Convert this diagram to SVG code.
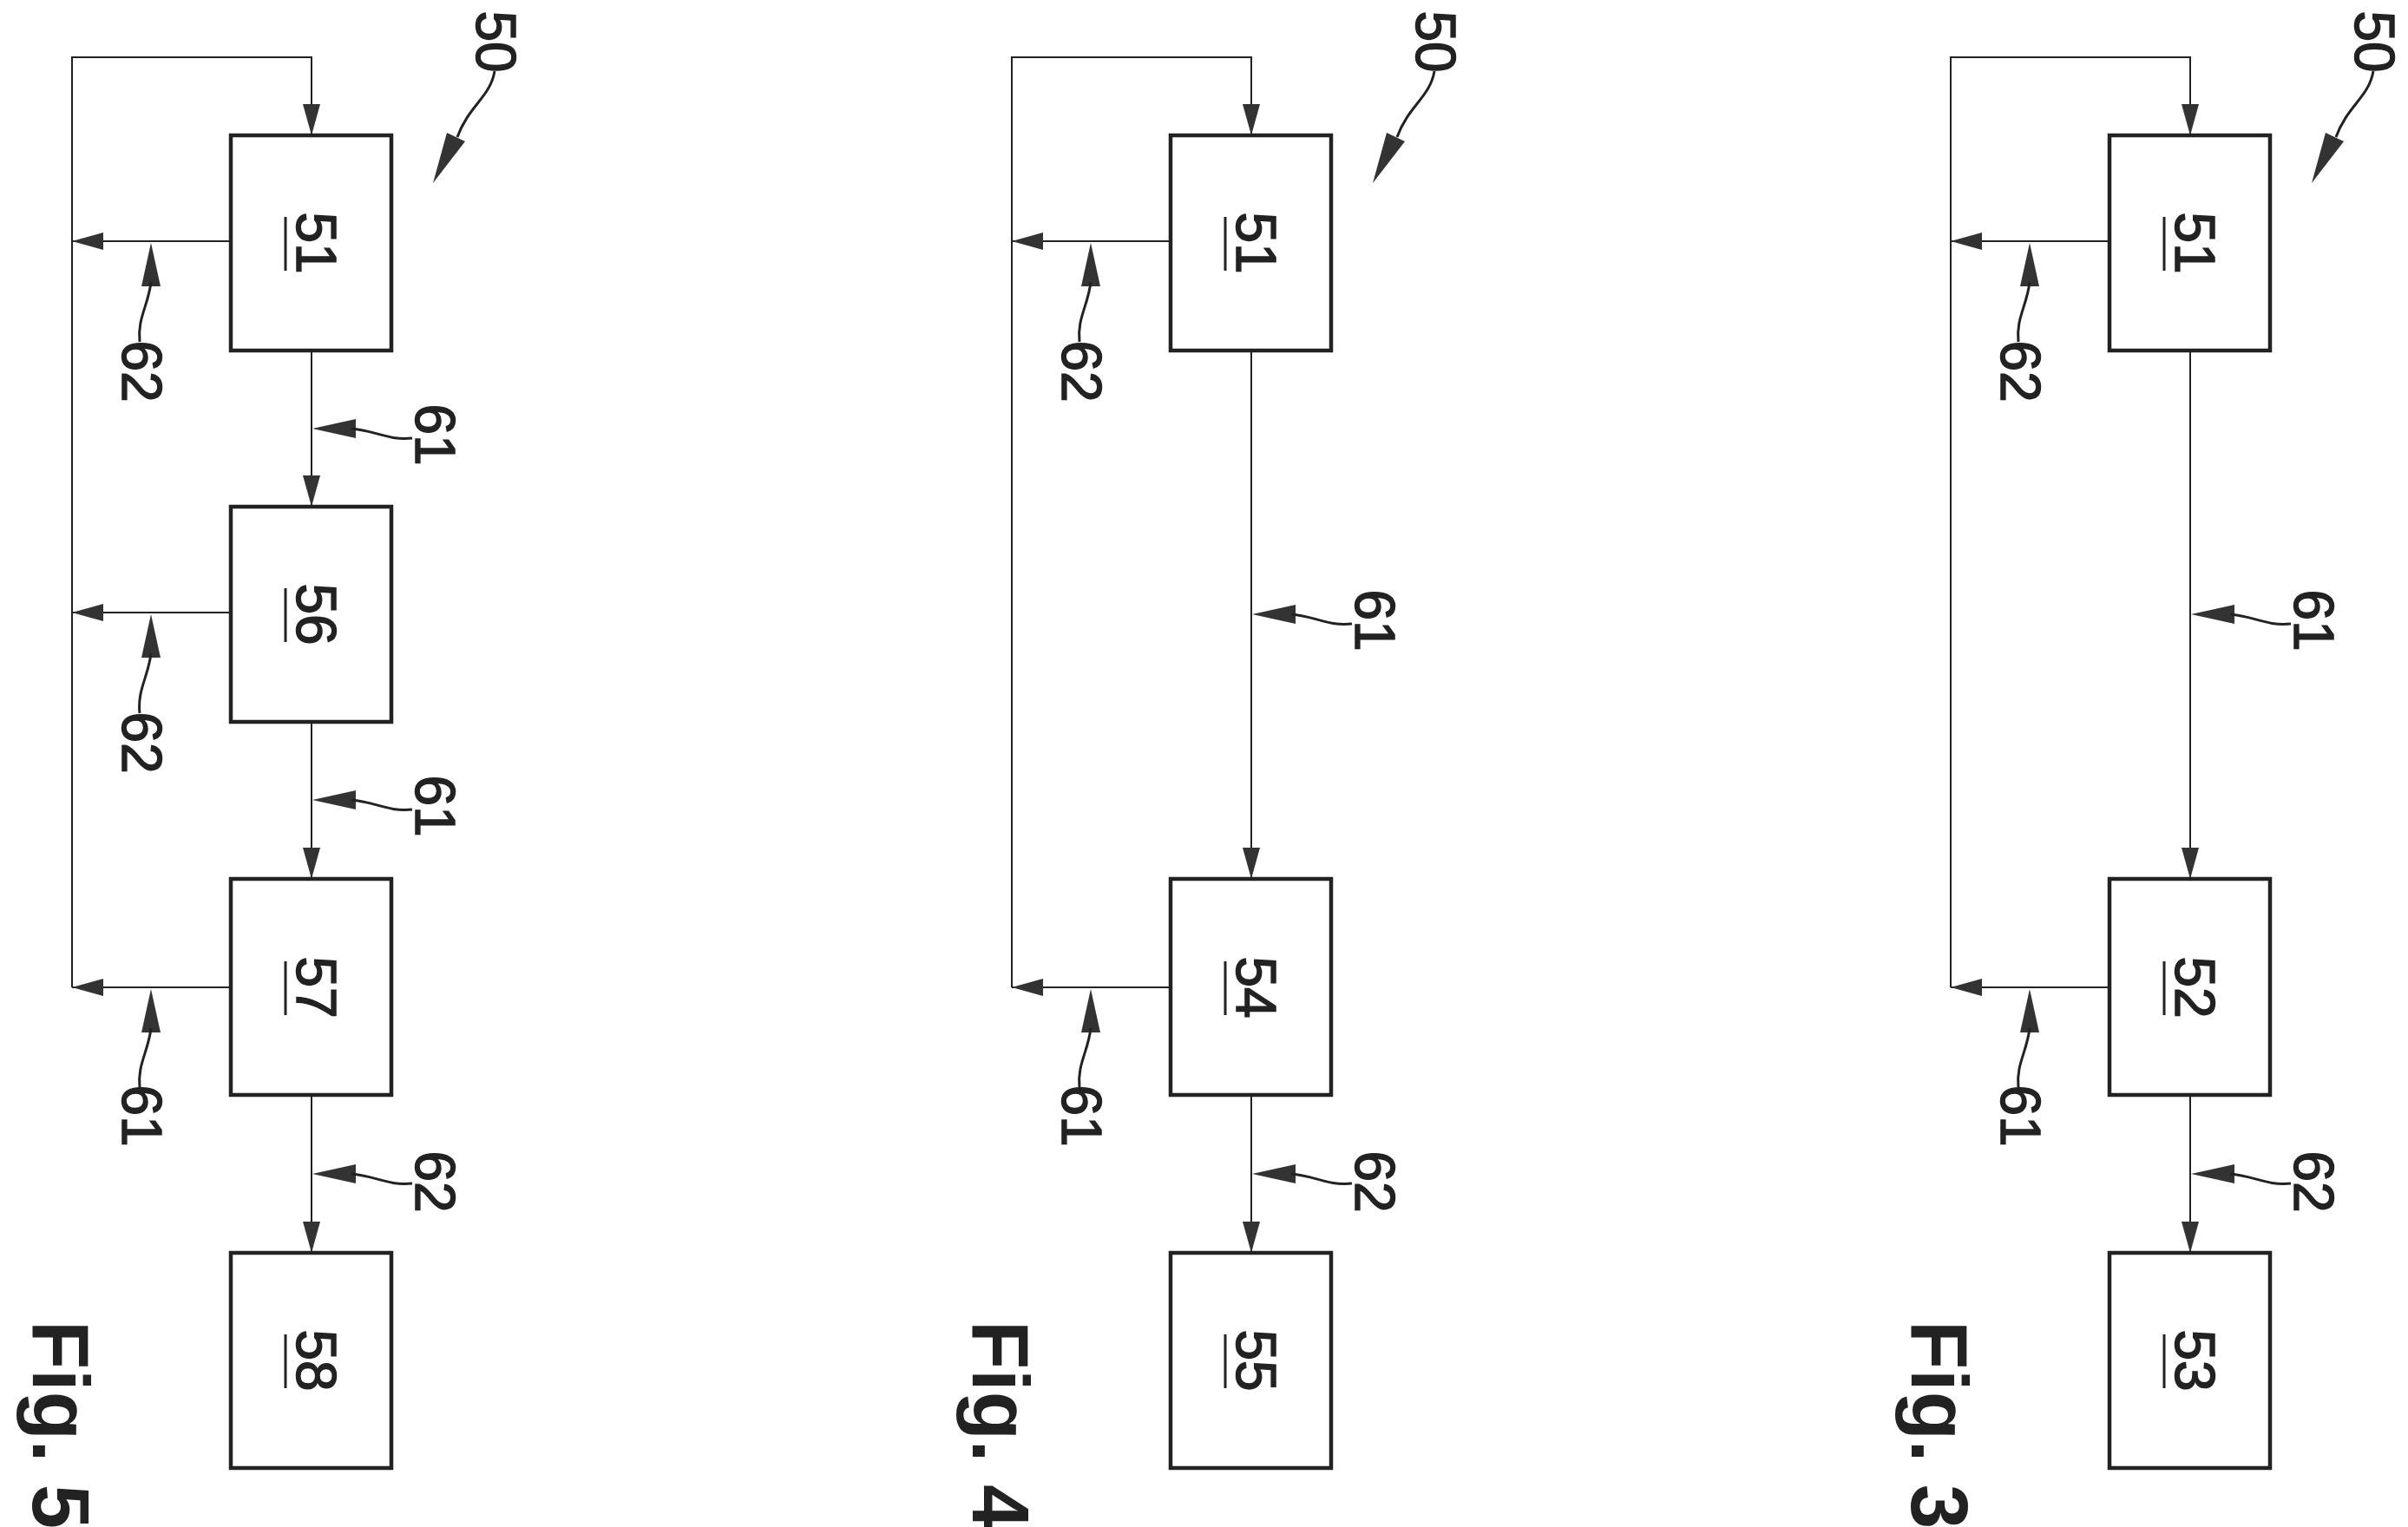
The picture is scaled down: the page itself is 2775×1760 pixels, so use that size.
<svg xmlns="http://www.w3.org/2000/svg" xmlns:xlink="http://www.w3.org/1999/xlink" width="2775" height="1760" viewBox="0 0 2775 1760">
<style>
.box{fill:#fff;stroke:#222;stroke-width:4.5}
.ln{fill:none;stroke:#222;stroke-width:2}
.ld{fill:none;stroke:#222;stroke-width:3}
.t{font-family:"Liberation Sans",Arial,sans-serif;font-size:64px;fill:#222;stroke:#222;stroke-width:1.5;text-anchor:middle;dominant-baseline:central}
.f{font-family:"Liberation Sans",Arial,sans-serif;font-size:92px;font-weight:bold;fill:#222;text-anchor:middle;dominant-baseline:central}
.ah{fill:#333}
</style>
<defs>
<marker id="a" markerUnits="userSpaceOnUse" markerWidth="36" markerHeight="20" refX="36" refY="10" orient="auto"><path d="M0,0 L36,10 L0,20 Z" class="ah"/></marker>
<g id="legA"><path d="M174,0 L163,50 L185,50 Z" class="ah"/><path class="ld" d="M174,45 C171,72 158,87 161,114"/></g>
<g id="legB"><path d="M360,0 L410,-11 L410,11 Z" class="ah"/><path class="ld" d="M405,0 C432,2 447,14 475,11"/></g>
<g id="leg50"><path class="ld" d="M570,82 C565,112 540,122 527,158"/><path d="M499,211 L515,153 L536,163 Z" class="ah"/></g>
</defs>

<!-- Fig 5 -->
<g id="fig5">
<g id="connectors5">
<path class="ln" d="M83,1138 L83,66 L359,66 L359,156" marker-end="url(#a)"/>
<path class="ln" d="M266,278 L83,278" marker-end="url(#a)"/>
<path class="ln" d="M266,706 L83,706" marker-end="url(#a)"/>
<path class="ln" d="M266,1138 L83,1138" marker-end="url(#a)"/>
<path class="ln" d="M359,404 L359,584" marker-end="url(#a)"/>
<path class="ln" d="M359,832 L359,1013" marker-end="url(#a)"/>
<path class="ln" d="M359,1262 L359,1444" marker-end="url(#a)"/>
<use xlink:href="#leg50"/>
<use xlink:href="#legA" transform="translate(0,280)"/>
<use xlink:href="#legA" transform="translate(0,708)"/>
<use xlink:href="#legA" transform="translate(0,1140)"/>
<use xlink:href="#legB" transform="translate(0,494)"/>
<use xlink:href="#legB" transform="translate(0,922)"/>
<use xlink:href="#legB" transform="translate(0,1353)"/>
<text class="t" transform="translate(571,48) rotate(90)">50</text>
<text class="t" transform="translate(163,428) rotate(90)">62</text>
<text class="t" transform="translate(163,856) rotate(90)">62</text>
<text class="t" transform="translate(163,1286) rotate(90)">61</text>
<text class="t" transform="translate(501,501) rotate(90)">61</text>
<text class="t" transform="translate(501,929) rotate(90)">61</text>
<text class="t" transform="translate(501,1362) rotate(90)">62</text>
</g>
<g id="n5_51"><rect class="box" x="266" y="156" width="185" height="248"/><text class="t" transform="translate(364,280) rotate(90)">51</text><line class="ld" x1="329" y1="250" x2="329" y2="312"/></g>
<g id="n5_56"><rect class="box" x="266" y="584" width="185" height="248"/><text class="t" transform="translate(364,708) rotate(90)">56</text><line class="ld" x1="329" y1="678" x2="329" y2="740"/></g>
<g id="n5_57"><rect class="box" x="266" y="1013" width="185" height="249"/><text class="t" transform="translate(364,1138) rotate(90)">57</text><line class="ld" x1="329" y1="1108" x2="329" y2="1170"/></g>
<g id="n5_58"><rect class="box" x="266" y="1444" width="185" height="248"/><text class="t" transform="translate(364,1568) rotate(90)">58</text><line class="ld" x1="329" y1="1538" x2="329" y2="1600"/></g>
<text class="f" transform="translate(70,1642) rotate(90)">Fig. 5</text>
</g>

<!-- Fig 4 -->
<g id="fig4" transform="translate(1083,0)">
<g id="connectors4">
<path class="ln" d="M83,1138 L83,66 L359,66 L359,156" marker-end="url(#a)"/>
<path class="ln" d="M266,278 L83,278" marker-end="url(#a)"/>
<path class="ln" d="M266,1138 L83,1138" marker-end="url(#a)"/>
<path class="ln" d="M359,404 L359,1013" marker-end="url(#a)"/>
<path class="ln" d="M359,1262 L359,1444" marker-end="url(#a)"/>
<use xlink:href="#leg50"/>
<use xlink:href="#legA" transform="translate(0,280)"/>
<use xlink:href="#legA" transform="translate(0,1140)"/>
<use xlink:href="#legB" transform="translate(0,708)"/>
<use xlink:href="#legB" transform="translate(0,1353)"/>
<text class="t" transform="translate(571,48) rotate(90)">50</text>
<text class="t" transform="translate(163,428) rotate(90)">62</text>
<text class="t" transform="translate(163,1286) rotate(90)">61</text>
<text class="t" transform="translate(501,715) rotate(90)">61</text>
<text class="t" transform="translate(501,1362) rotate(90)">62</text>
</g>
<g id="n4_51"><rect class="box" x="266" y="156" width="185" height="248"/><text class="t" transform="translate(364,280) rotate(90)">51</text><line class="ld" x1="329" y1="250" x2="329" y2="312"/></g>
<g id="n4_54"><rect class="box" x="266" y="1013" width="185" height="249"/><text class="t" transform="translate(364,1138) rotate(90)">54</text><line class="ld" x1="329" y1="1108" x2="329" y2="1170"/></g>
<g id="n4_55"><rect class="box" x="266" y="1444" width="185" height="248"/><text class="t" transform="translate(364,1568) rotate(90)">55</text><line class="ld" x1="329" y1="1538" x2="329" y2="1600"/></g>
<text class="f" transform="translate(70,1642) rotate(90)">Fig. 4</text>
</g>

<!-- Fig 3 -->
<g id="fig3" transform="translate(2165,0)">
<g id="connectors3">
<path class="ln" d="M83,1138 L83,66 L359,66 L359,156" marker-end="url(#a)"/>
<path class="ln" d="M266,278 L83,278" marker-end="url(#a)"/>
<path class="ln" d="M266,1138 L83,1138" marker-end="url(#a)"/>
<path class="ln" d="M359,404 L359,1013" marker-end="url(#a)"/>
<path class="ln" d="M359,1262 L359,1444" marker-end="url(#a)"/>
<use xlink:href="#leg50"/>
<use xlink:href="#legA" transform="translate(0,280)"/>
<use xlink:href="#legA" transform="translate(0,1140)"/>
<use xlink:href="#legB" transform="translate(0,708)"/>
<use xlink:href="#legB" transform="translate(0,1353)"/>
<text class="t" transform="translate(571,48) rotate(90)">50</text>
<text class="t" transform="translate(163,428) rotate(90)">62</text>
<text class="t" transform="translate(163,1286) rotate(90)">61</text>
<text class="t" transform="translate(501,715) rotate(90)">61</text>
<text class="t" transform="translate(501,1362) rotate(90)">62</text>
</g>
<g id="n3_51"><rect class="box" x="266" y="156" width="185" height="248"/><text class="t" transform="translate(364,280) rotate(90)">51</text><line class="ld" x1="329" y1="250" x2="329" y2="312"/></g>
<g id="n3_52"><rect class="box" x="266" y="1013" width="185" height="249"/><text class="t" transform="translate(364,1138) rotate(90)">52</text><line class="ld" x1="329" y1="1108" x2="329" y2="1170"/></g>
<g id="n3_53"><rect class="box" x="266" y="1444" width="185" height="248"/><text class="t" transform="translate(364,1568) rotate(90)">53</text><line class="ld" x1="329" y1="1538" x2="329" y2="1600"/></g>
<text class="f" transform="translate(70,1642) rotate(90)">Fig. 3</text>
</g>
</svg>
